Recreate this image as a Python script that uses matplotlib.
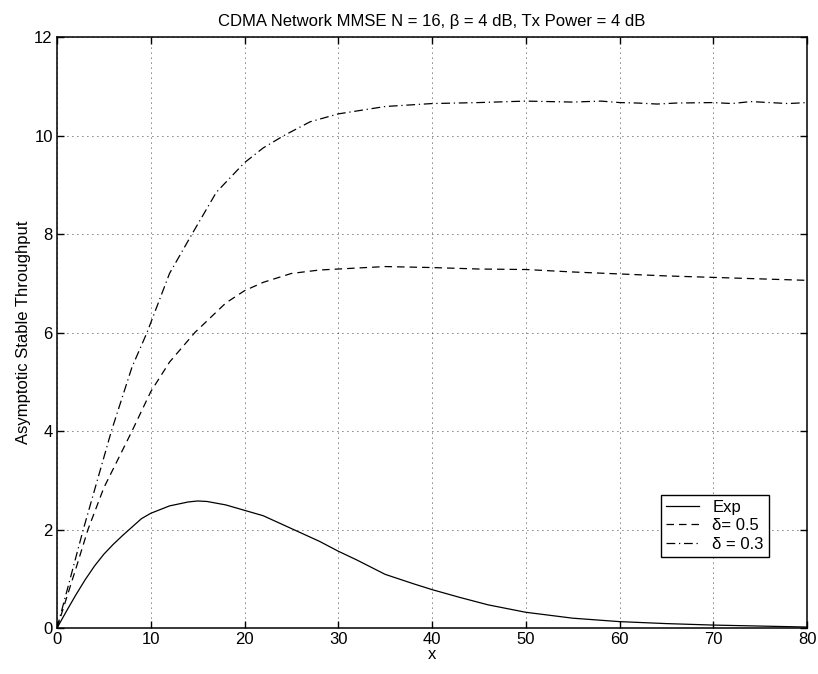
import matplotlib
matplotlib.use("Agg")
import matplotlib.pyplot as plt

plt.rcParams['font.family'] = ['Liberation Sans', 'DejaVu Sans']

# data
x_exp = [0, 1, 2, 3, 4, 5, 6, 7, 8, 9, 10, 12, 14, 15, 16, 18, 20, 22, 25, 28, 30, 32, 35,
         38, 40, 43, 46, 50, 55, 60, 65, 70, 75, 80]
y_exp = [0, 0.34, 0.67, 0.98, 1.26, 1.50, 1.70, 1.88, 2.05, 2.22, 2.33, 2.48, 2.56, 2.58,
         2.57, 2.50, 2.39, 2.28, 2.02, 1.76, 1.56, 1.38, 1.09, 0.90, 0.78, 0.62, 0.47,
         0.32, 0.20, 0.13, 0.09, 0.06, 0.04, 0.02]

x_d05 = [0, 2, 3.3, 5, 8, 10, 12, 14.7, 18, 20, 22, 25, 28, 30, 35, 40, 45, 50, 55, 60,
         65, 70, 75, 80]
y_d05 = [0, 1.2, 2.0, 2.85, 4.0, 4.8, 5.4, 6.0, 6.6, 6.85, 7.02, 7.2, 7.27, 7.29, 7.34,
         7.32, 7.29, 7.28, 7.23, 7.19, 7.15, 7.12, 7.09, 7.06]

x_d03 = [0, 2.8, 5.8, 8, 9.6, 12, 14.4, 17, 20, 22, 24.2, 27, 30, 35, 40, 45, 50, 55, 58,
         60, 62, 64, 66, 70, 72, 74, 76, 78, 80]
y_d03 = [0, 2.0, 4.0, 5.3, 6.0, 7.2, 8.0, 8.85, 9.45, 9.75, 10.0, 10.28, 10.44, 10.59,
         10.65, 10.67, 10.70, 10.68, 10.70, 10.67, 10.66, 10.64, 10.66, 10.67, 10.65,
         10.69, 10.67, 10.65, 10.67]

fs = 12

fig = plt.figure(figsize=(8.18, 6.74), dpi=100)
ax = fig.add_axes([0.0697, 0.0682, 0.9169, 0.8768])

ax.plot(x_exp, y_exp, color='black', lw=0.9, ls='-', label='Exp')
ax.plot(x_d05, y_d05, color='black', lw=0.9, ls=(0, (6, 4)), label='δ= 0.5')
ax.plot(x_d03, y_d03, color='black', lw=0.9, ls=(0, (7, 3, 1, 3)), label='δ = 0.3')

ax.set_xlim(0, 80)
ax.set_ylim(0, 12)
ax.set_xticks(range(0, 81, 10))
ax.set_yticks(range(0, 13, 2))
ax.grid(True, color='black', ls=(0, (1, 5)), lw=0.6)
ax.tick_params(direction='in', top=True, right=True, length=5, width=1, labelsize=fs, pad=3)
for s in ax.spines.values():
    s.set_linewidth(1.1)

ax.set_title('CDMA Network MMSE N = 16, β = 4 dB, Tx Power = 4 dB', fontsize=fs, pad=8)
ax.set_xlabel('x', fontsize=fs, labelpad=0)
ax.set_ylabel('Asymptotic Stable Throughput', fontsize=fs, labelpad=2)

leg = ax.legend(loc='lower left', bbox_to_anchor=(0.805, 0.121), fancybox=False,
                framealpha=1, edgecolor='black', fontsize=fs, handlelength=2.0,
                borderaxespad=0, labelspacing=0.2, borderpad=0.3)
leg.get_frame().set_linewidth(1.0)

fig.savefig('out.png', dpi=100)
